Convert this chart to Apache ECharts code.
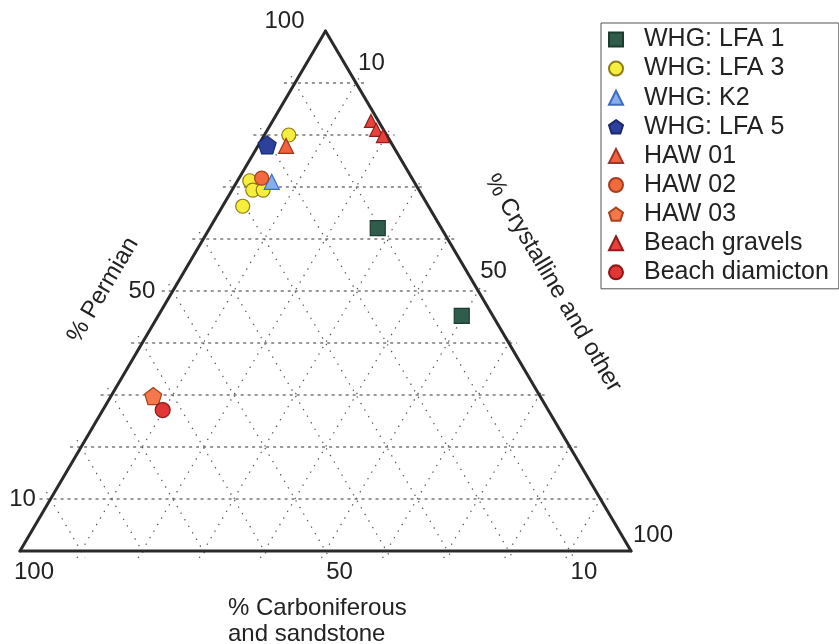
<!DOCTYPE html>
<html>
<head>
<meta charset="utf-8">
<title>Clast lithology ternary diagram</title>
<script src="https://cdn.jsdelivr.net/npm/echarts@6/dist/echarts.min.js"></script>
<style>
  html, body { margin: 0; padding: 0; background: #ffffff; }
  #chart { width: 839px; height: 644px; }
</style>
</head>
<body>
<div id="chart"></div>
<script>
// Each sample is [Permian %, Carboniferous %, Crystalline %]
const seriesNames = ['WHG: LFA 1', 'WHG: LFA 3', 'WHG: K2', 'WHG: LFA 5', 'HAW 01', 'HAW 02', 'HAW 03', 'Beach gravels', 'Beach diamicton'];
const whgLfa1 = [[62.1, 10.4, 27.5], [45.2, 5.1, 49.7]];
const whgLfa3 = [[80.0, 16.0, 4.0], [71.2, 26.8, 2.0], [69.4, 27.2, 3.4], [69.4, 25.5, 5.1], [66.3, 30.4, 3.3]];
const whgK2 = [[71.0, 23.3, 5.7]];
const whgLfa5 = [[78.1, 20.5, 1.4]];
const haw01 = [[77.9, 17.5, 4.6]];
const haw02 = [[71.7, 24.6, 3.7]];
const haw03 = [[29.8, 63.3, 6.9]];
const beachGravels = [[82.7, 1.2, 16.1], [81.0, 1.2, 17.8], [79.8, 0.7, 19.5]];
const beachDiamicton = [[27.1, 63.1, 9.8]];

// Grid and tick values (percent)
const gridSteps = [10, 20, 30, 40, 50, 60, 70, 80, 90];
const permianTicks = [10, 50, 100];
const carbTicks = [100, 50, 10];
const crystTicks = [10, 50, 100];

const FONT = "'Liberation Sans', Arial, Helvetica, sans-serif";
const PENTAGON = 'path://M50 0 L97.55 34.55 L79.39 90.45 L20.61 90.45 L2.45 34.55 Z';

// Permian at the apex, Carboniferous bottom-left, Crystalline bottom-right
function toXY(t) {
  const p = t[0], k = t[2];
  return [(k + p / 2) / 100, p / 100];
}

// Grid segments: kind 0 = Permian (dashed), 1 = other families (dotted), 2 = outline
const segments = [];
gridSteps.forEach(function (v) {
  const a = toXY([v, 100 - v, 0]), b = toXY([v, 0, 100 - v]);
  segments.push([a[0], a[1], b[0], b[1], 0]);
});
gridSteps.forEach(function (v) {
  const a = toXY([100 - v, v, 0]), b = toXY([0, v, 100 - v]);
  segments.push([a[0], a[1], b[0], b[1], 1]);
});
gridSteps.forEach(function (v) {
  const a = toXY([0, 100 - v, v]), b = toXY([100 - v, 0, v]);
  segments.push([a[0], a[1], b[0], b[1], 1]);
});
const vTop = toXY([100, 0, 0]), vLeft = toXY([0, 100, 0]), vRight = toXY([0, 0, 100]);
segments.push([vLeft[0], vLeft[1], vTop[0], vTop[1], 2]);
segments.push([vTop[0], vTop[1], vRight[0], vRight[1], 2]);
segments.push([vRight[0], vRight[1], vLeft[0], vLeft[1], 2]);

// Tick labels: [x, y, value, side]  side 0 = left, 1 = bottom, 2 = right
const tickLabels = [];
permianTicks.forEach(function (v) { const q = toXY([v, 100 - v, 0]); tickLabels.push([q[0], q[1], v, 0]); });
carbTicks.forEach(function (v) { const q = toXY([0, v, 100 - v]); tickLabels.push([q[0], q[1], v, 1]); });
crystTicks.forEach(function (v) { const q = toXY([100 - v, 0, v]); tickLabels.push([q[0], q[1], v, 2]); });

const styles = [
  { data: whgLfa1, symbol: 'rect', size: 15, color: '#2f5d4c', border: '#1c3a2f' },
  { data: whgLfa3, symbol: 'circle', size: 14, color: '#f6ee3c', border: '#8c7c16' },
  { data: whgK2, symbol: 'triangle', size: 15, color: '#86aeea', border: '#3f69c2' },
  { data: whgLfa5, symbol: PENTAGON, size: 18, color: '#2c409c', border: '#1b286e' },
  { data: haw01, symbol: 'triangle', size: 15, color: '#f2613e', border: '#a3321f' },
  { data: haw02, symbol: 'circle', size: 14, color: '#f36a3c', border: '#a3401f' },
  { data: haw03, symbol: PENTAGON, size: 17, color: '#f4784b', border: '#a8421e' },
  { data: beachGravels, symbol: 'triangle', size: 13, color: '#e8403c', border: '#8e1e1e' },
  { data: beachDiamicton, symbol: 'circle', size: 15, color: '#e23535', border: '#8a1818' }
];

const chart = echarts.init(document.getElementById('chart'), null, { renderer: 'canvas' });

const ANG = Math.atan2(520, 305.5);

const option = {
  animation: false,
  backgroundColor: '#ffffff',
  grid: { left: 20, top: 31, width: 611, height: 520, containLabel: false },
  xAxis: { type: 'value', min: 0, max: 1, show: false },
  yAxis: { type: 'value', min: 0, max: 1, show: false },
  legend: {
    orient: 'vertical',
    left: 601,
    top: 23,
    padding: [4, 10, 4, 7],
    itemWidth: 14,
    itemHeight: 14,
    itemGap: 4.1,
    borderColor: '#555555',
    borderWidth: 1,
    backgroundColor: '#ffffff',
    data: seriesNames,
    textStyle: { fontFamily: FONT, fontSize: 25, color: '#222222', padding: [0, 0, 0, 16] }
  },
  graphic: [
    { type: 'text', x: 103, y: 290, rotation: ANG, silent: true,
      style: { text: '% Permian', font: '24px ' + FONT, fill: '#222222', align: 'center', verticalAlign: 'middle' } },
    { type: 'text', x: 553, y: 283, rotation: -ANG, silent: true,
      style: { text: '% Crystalline and other', font: '24px ' + FONT, fill: '#222222', align: 'center', verticalAlign: 'middle' } },
    { type: 'text', x: 228, y: 595, silent: true,
      style: { text: '% Carboniferous\nand sandstone', font: '24px ' + FONT, fill: '#222222', align: 'left', verticalAlign: 'top', lineHeight: 26 } }
  ],
  series: [
    {
      type: 'custom',
      name: 'grid',
      silent: true,
      z: 1,
      dimensions: ['x1', 'y1', 'x2', 'y2', 'kind'],
      encode: { x: [0, 2], y: [1, 3] },
      data: segments,
      renderItem: function (params, api) {
        const a = api.coord([api.value(0), api.value(1)]);
        const b = api.coord([api.value(2), api.value(3)]);
        const kind = api.value(4);
        let e0 = 0, e1 = 0, style;
        if (kind === 0) {
          e0 = 11; e1 = 8;
          style = { stroke: '#333333', lineWidth: 1, lineDash: [3, 4] };
        } else if (kind === 1) {
          e0 = 8; e1 = 8;
          style = { stroke: '#555555', lineWidth: 1.2, lineDash: [1.4, 6.2] };
        } else {
          style = { stroke: '#2a2a2a', lineWidth: 3, lineCap: 'round' };
        }
        const dx = b[0] - a[0], dy = b[1] - a[1], len = Math.hypot(dx, dy);
        const ux = dx / len, uy = dy / len;
        return {
          type: 'line',
          z2: kind === 2 ? 10 : 1,
          shape: { x1: a[0] - ux * e0, y1: a[1] - uy * e0, x2: b[0] + ux * e1, y2: b[1] + uy * e1 },
          style: style
        };
      }
    },
    {
      type: 'custom',
      name: 'ticks',
      silent: true,
      z: 2,
      dimensions: ['x', 'y', 'v', 'side'],
      encode: { x: 0, y: 1 },
      data: tickLabels,
      renderItem: function (params, api) {
        const q = api.coord([api.value(0), api.value(1)]);
        const v = api.value(2), side = api.value(3);
        let x = q[0], y = q[1], align = 'center';
        if (side === 0) {
          align = 'right';
          x -= 14 + 7 * v / 100;
          if (v === 100) y -= 10;
        } else if (side === 1) {
          x += 14; y += 21;
        } else {
          align = 'left';
          x += 2; y -= (v === 100 ? 16 : 20);
        }
        return {
          type: 'text',
          style: { text: String(v), x: x, y: y, align: align, verticalAlign: 'middle', font: '24px ' + FONT, fill: '#222222' }
        };
      }
    }
  ].concat(styles.map(function (s, i) {
    return {
      type: 'scatter',
      name: seriesNames[i],
      z: 5 + i,
      symbol: s.symbol,
      symbolSize: s.size,
      itemStyle: { color: s.color, borderColor: s.border, borderWidth: 1.2, opacity: 1 },
      data: s.data.map(toXY)
    };
  }))
};

chart.setOption(option);
</script>
</body>
</html>
